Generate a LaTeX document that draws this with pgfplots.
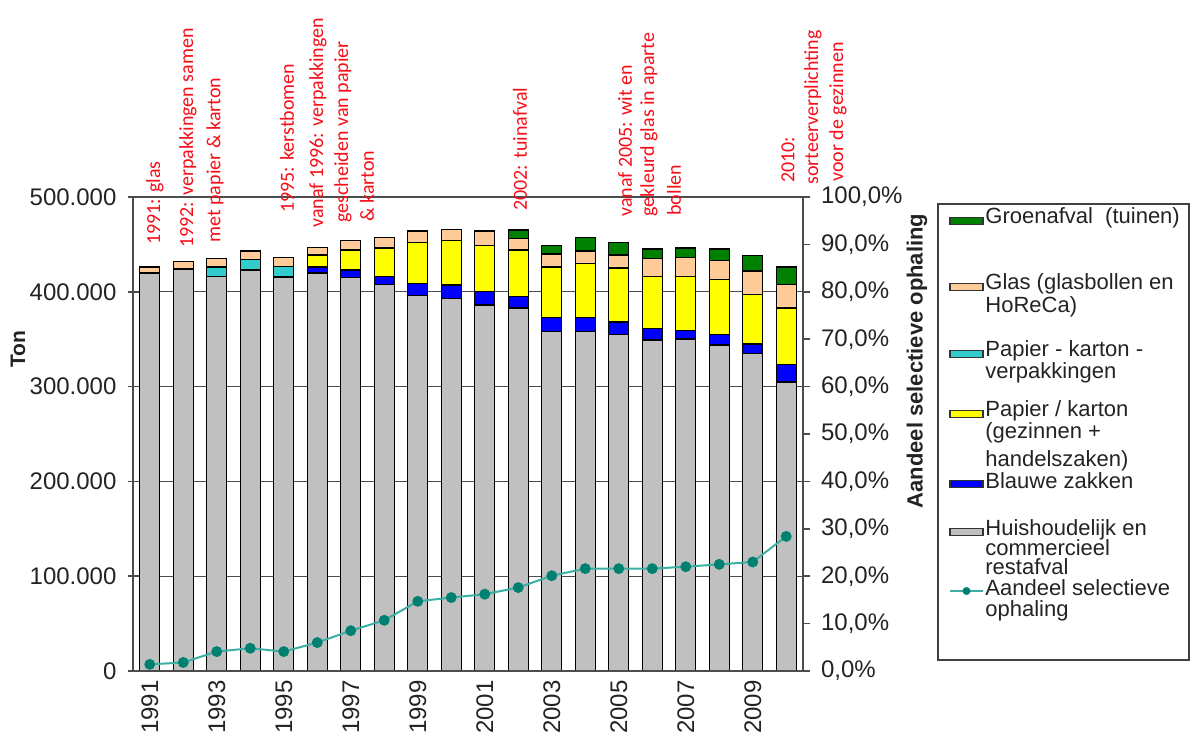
\documentclass[border=0pt]{standalone}
\usepackage{pgfplots}
\pgfplotsset{compat=1.18}
\usepackage{pgfplotstable}
\usepackage{fontspec}
\setmainfont{Liberation Sans}
\newfontfamily\annfont{Carlito}

\definecolor{groen}{RGB}{0,128,0}
\definecolor{glas}{RGB}{255,204,153}
\definecolor{verpak}{RGB}{51,204,204}
\definecolor{papier}{RGB}{255,255,0}
\definecolor{blauw}{RGB}{0,0,255}
\definecolor{rest}{RGB}{192,192,192}
\definecolor{lijn}{RGB}{60,175,165}
\definecolor{punt}{RGB}{0,128,112}
\definecolor{txt}{RGB}{35,35,35}
\definecolor{ann}{RGB}{245,15,25}

% ton x 1000, aandeel in %
\pgfplotstableread{
jaar rest blauw papier verpak glas groen aandeel
1991 420 0  0  0  6  0  1.4
1992 424 0  0  0  8  0  1.8
1993 416 0  0  10 9  0  4.1
1994 423 0  0  11 9  0  4.8
1995 415 1  0  11 9  0  4.1
1996 420 6  13 0  8  0  6.0
1997 415 8  21 0  10 0  8.5
1998 408 8  30 0  11 0  10.7
1999 396 13 43 0  12 0  14.7
2000 393 14 47 0  12 0  15.5
2001 386 14 49 0  15 0  16.2
2002 383 12 49 0  12 9  17.6
2003 358 15 53 0  14 9  20.1
2004 358 15 57 0  13 14 21.6
2005 355 13 57 0  14 13 21.6
2006 349 12 55 0  19 10 21.6
2007 350 9  57 0  20 10 22.0
2008 344 11 58 0  20 12 22.5
2009 335 10 52 0  25 16 23.0
2010 305 18 60 0  25 18 28.4
}\afval

\begin{document}
\begin{tikzpicture}[x=1pt,y=1pt]
\useasboundingbox (0,0) rectangle (597,370);

% bars, left axis
\begin{axis}[
  at={(66.5pt,34.5pt)}, anchor=south west,
  scale only axis, width=335pt, height=237pt,
  ybar stacked, bar width=10pt,
  xmin=1990.5, xmax=2010.5, ymin=0, ymax=500,
  axis x line*=bottom, axis y line*=left,
  axis line style={draw=black!70, line width=0.8pt},
  xtick=\empty,
  ytick={0,100,200,300,400,500},
  yticklabels={0,100.000,200.000,300.000,400.000,500.000},
  tick align=center, major tick length=5.5pt,
  tick style={draw=black!70, line width=0.8pt},
  yticklabel style={font=\fontsize{12}{14}\selectfont, text=txt, xshift=-2pt},
  ymajorgrids, grid style={draw=black!70, line width=0.6pt},
  every axis plot/.append style={draw=black, line width=0.7pt},
]
\addplot[fill=rest] table[x=jaar, y=rest]{\afval};
\addplot[fill=blauw] table[x=jaar, y=blauw]{\afval};
\addplot[fill=papier] table[x=jaar, y=papier]{\afval};
\addplot[fill=verpak] table[x=jaar, y=verpak]{\afval};
\addplot[fill=glas] table[x=jaar, y=glas]{\afval};
\addplot[fill=groen] table[x=jaar, y=groen]{\afval};
\end{axis}

% share line, right axis
\begin{axis}[
  at={(66.5pt,34.5pt)}, anchor=south west,
  scale only axis, width=335pt, height=237pt,
  xmin=1990.5, xmax=2010.5, ymin=0, ymax=100,
  axis x line*=bottom, axis y line*=right,
  axis line style={draw=black!70, line width=0.8pt},
  xtick={1991,1993,...,2009},
  xticklabels={1991,1993,1995,1997,1999,2001,2003,2005,2007,2009},
  minor xtick={1990.5,1991.5,...,2010.5},
  xtick style={draw=none},
  minor tick length=3pt, major tick length=3.5pt,
  tick align=outside,
  ytick style={draw=black!70, line width=0.8pt},
  minor tick style={draw=black!70, line width=0.8pt},
  xticklabel style={font=\fontsize{12}{14}\selectfont, text=txt, rotate=90, anchor=east, inner sep=1pt},
  ytick={0,10,...,100},
  yticklabel={\pgfmathprintnumber{\tick}\%},
  yticklabel style={font=\fontsize{12}{14}\selectfont, text=txt, xshift=2pt,
    /pgf/number format/.cd, fixed, fixed zerofill, precision=1, use comma, assume math mode=true},
]
\addplot[color=lijn, line width=1pt, mark=*, mark size=2.2pt,
  mark options={fill=punt, draw=punt}] table[x=jaar, y=aandeel]{\afval};
\end{axis}

% axis titles
\node[rotate=90, font=\bfseries\fontsize{10.5}{12}\selectfont, text=txt] at (9,195.5) {Ton};
\node[rotate=90, font=\bfseries\fontsize{11}{13}\selectfont, text=txt] at (458.5,189.5) {Aandeel selectieve ophaling};

% annotations
\begin{scope}[every node/.style={rotate=90, anchor=west, inner sep=0pt, text=ann,
    font=\annfont\fontsize{10}{12}\selectfont}]
\node at (77.5,247.5) {1991: glas};
\node at (94,246) {1992: verpakkingen samen};
\node at (107.5,248.5) {met papier \& karton};
\node at (143.5,263.5) {1995: kerstbomen};
\node at (159,256) {vanaf 1996: verpakkingen};
\node at (171.5,258.5) {gescheiden van papier};
\node at (183.5,259) {\& karton};
\node at (260,264.5) {2002: tuinafval};
\node at (312.5,261.5) {vanaf 2005: wit en};
\node at (324.5,261.5) {gekleurd glas in aparte};
\node at (337,262) {bollen};
\node at (394,278.5) {2010:};
\node at (406.5,277.5) {sorteerverplichting};
\node at (419,279) {voor de gezinnen};
\end{scope}

% legend
\draw[black!75, line width=0.7pt] (469,40) rectangle (594.5,268);
\begin{scope}[line width=0.6pt]
\filldraw[fill=groen, draw=black!80] (475,257.75) rectangle (491.5,261.25);
\filldraw[fill=glas, draw=black!80] (475,224.75) rectangle (491.5,228.25);
\filldraw[fill=verpak, draw=black!80] (475,191.25) rectangle (491.5,194.75);
\filldraw[fill=papier, draw=black!80] (475,161.25) rectangle (491.5,164.75);
\filldraw[fill=blauw, draw=black!80] (475,126.25) rectangle (491.5,129.75);
\filldraw[fill=rest, draw=black!80] (475,102.25) rectangle (491.5,105.75);
\end{scope}
\draw[lijn, line width=1pt] (475,74.5) -- (491.5,74.5);
\fill[punt] (483.25,74.5) circle (2pt);
\begin{scope}[every node/.style={anchor=base west, inner sep=0pt, text=txt,
    font=\fontsize{11}{13}\selectfont}]
\node at (492.5,258) {Groenafval\ \ (tuinen)};
\node at (492.5,225) {Glas (glasbollen en};
\node at (492.5,213.5) {HoReCa)};
\node at (492.5,191.5) {Papier - karton -};
\node at (492.5,180.5) {verpakkingen};
\node at (492.5,161.5) {Papier / karton};
\node at (492.5,150.5) {(gezinnen +};
\node at (492.5,137) {handelszaken)};
\node at (492.5,126) {Blauwe zakken};
\node at (492.5,102.5) {Huishoudelijk en};
\node at (492.5,92.5) {commercieel};
\node at (492.5,83) {restafval};
\node at (492.5,72.5) {Aandeel selectieve};
\node at (492.5,62) {ophaling};
\end{scope}
\end{tikzpicture}
\end{document}
